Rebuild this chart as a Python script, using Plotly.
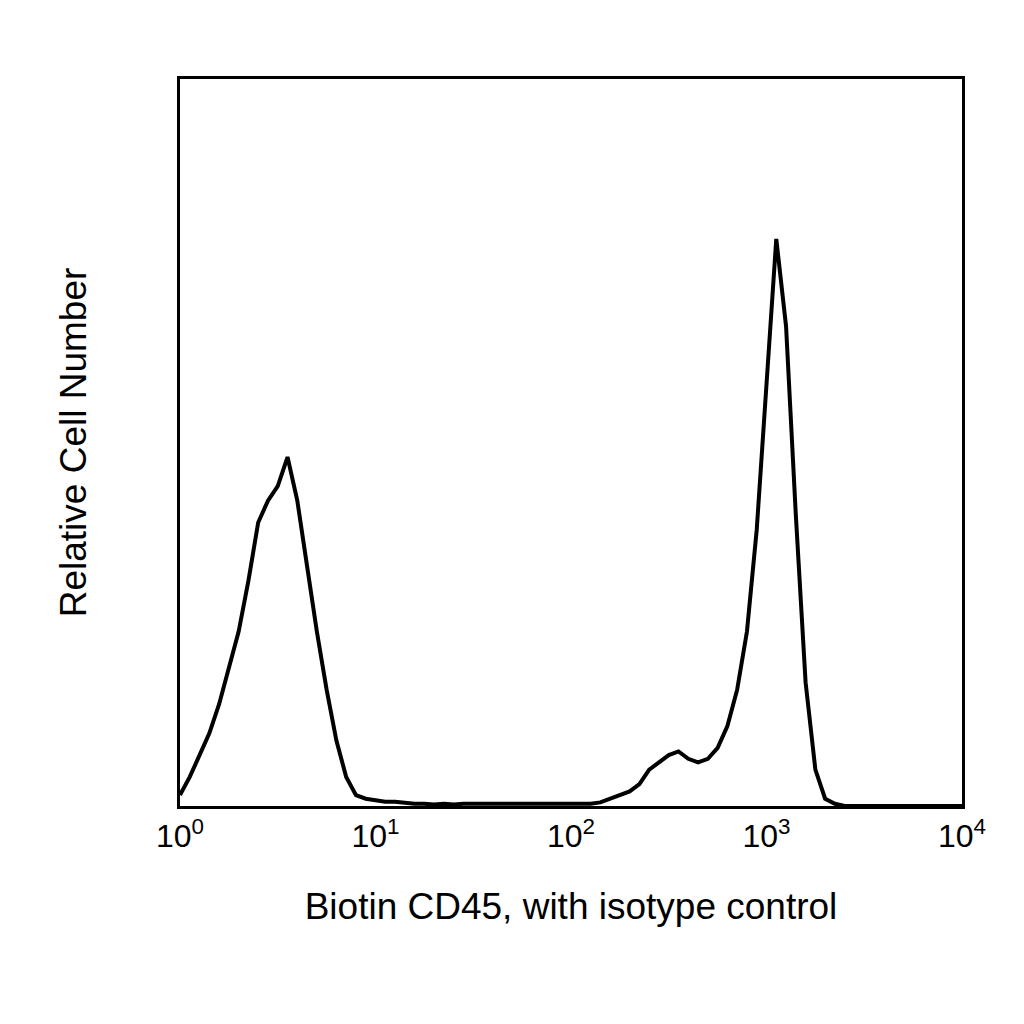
import plotly.graph_objects as go

# log10 fluorescence bin centres (0.05 steps) and relative counts
log_pos = [i * 0.05 for i in range(81)]
counts = [
    1.5, 4, 7, 10, 14, 19, 24, 31, 39, 42,
    44, 48, 42, 33, 24, 16, 9, 4, 1.5, 1,
    0.8, 0.6, 0.6, 0.4, 0.3, 0.3, 0.2, 0.3, 0.2, 0.3,
    0.3, 0.2, 0.3, 0.3, 0.2, 0.3, 0.3, 0.3, 0.2, 0.3,
    0.3, 0.3, 0.3, 0.5, 1, 1.5, 2, 3, 5, 6,
    7, 7.5, 6.5, 6, 6.5, 8, 11, 16, 24, 38,
    58, 78, 66, 40, 17, 5, 1, 0.3, 0, 0,
    0, 0, 0, 0, 0, 0, 0, 0, 0, 0, 0,
]
x_vals = [10 ** p for p in log_pos]

tick_vals = [1, 10, 100, 1000, 10000]
tick_text = ["10<sup>0</sup>", "10<sup>1</sup>", "10<sup>2</sup>", "10<sup>3</sup>", "10<sup>4</sup>"]

fig = go.Figure(go.Scatter(x=x_vals, y=counts, mode="lines",
                           line=dict(color="black", width=4)))

fig.update_layout(
    width=1024, height=1024,
    plot_bgcolor="white", paper_bgcolor="white",
    margin=dict(l=172, r=70, t=71, b=226),
    font=dict(family="Liberation Sans, Arial", size=32, color="black"),
    showlegend=False,
    xaxis=dict(type="log", range=[0, 4], tickvals=tick_vals, ticktext=tick_text,
               showgrid=False, zeroline=False, showline=True, mirror=True,
               linecolor="black", linewidth=3, ticks="",
               title=dict(text="Biotin CD45, with isotype control", standoff=40,
                          font=dict(size=37))),
    yaxis=dict(range=[0, 100], showticklabels=False, showgrid=False, zeroline=False,
               showline=True, mirror=True, linecolor="black", linewidth=3, ticks="",
               title=dict(text="Relative Cell Number", standoff=80, font=dict(size=37))),
)

fig.write_html("out.html")
